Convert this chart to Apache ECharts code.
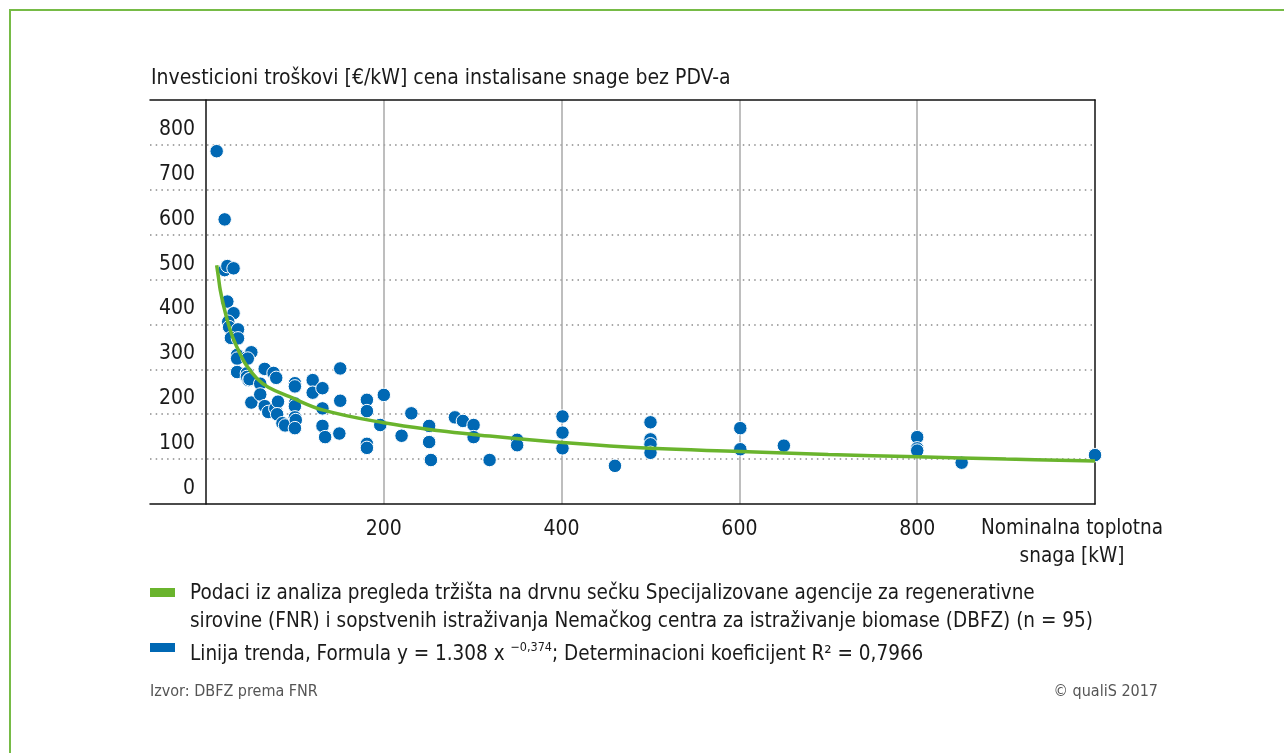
<!DOCTYPE html>
<html>
<head>
<meta charset="utf-8">
<script src="https://cdn.jsdelivr.net/npm/echarts@6/dist/echarts.min.js"></script>
<style>
  html, body { margin: 0; padding: 0; background: #fff; }
  #chart { width: 1284px; height: 753px; }
</style>
</head>
<body>
<div id="chart"></div>
<script>
  // snaga [kW] i troškovi [€/kW], očitano sa slike
  var power = [12, 21, 21, 24, 31, 24, 31, 25, 26, 36, 28, 36, 35, 46, 51, 35, 47,
    35, 46, 46, 48, 49, 61, 66, 76, 79, 51, 61, 66, 70, 78, 81, 80, 86, 89,
    100, 100, 100, 100, 100, 101, 100, 120, 120, 131, 131, 131, 134, 151, 151, 150,
    181, 181, 181, 181, 196, 200, 220, 231, 251, 251, 253, 280, 289, 301, 301, 319,
    350, 350, 401, 401, 401, 460, 500, 500, 500, 500, 601, 601, 650, 800, 800, 800,
    850, 1000]
  var cost = [786, 634, 521, 530, 525, 451, 425, 406, 394, 389, 370, 369, 332, 327, 338, 324, 324,
    294, 291, 283, 276, 278, 268, 301, 292, 281, 226, 244, 218, 205, 213, 228, 200, 180, 175,
    269, 262, 224, 218, 193, 187, 169, 276, 248, 258, 213, 174, 149, 302, 230, 157,
    232, 207, 134, 125, 176, 243, 152, 202, 174, 138, 98, 193, 185, 176, 149, 98,
    143, 131, 195, 159, 124, 85, 182, 144, 133, 114, 169, 122, 130, 149, 124, 119,
    92, 109]

  // linija trenda, očitana sa slike
  var trendX = [12, 14, 16, 20, 25, 30, 38, 45, 57, 70, 94, 132, 200, 263, 300, 401, 500, 601, 700, 800, 900, 1000]
  var trendY = [532, 505, 477, 440, 402, 372, 336, 310, 280, 260, 239, 209, 181, 163, 155, 137, 124, 117, 110, 105, 100, 96]

  var xTicks = [200, 400, 600, 800]
  var yTicks = [0, 100, 200, 300, 400, 500, 600, 700, 800]

  var FONT = "'Liberation Sans Narrow', 'DejaVu Sans Condensed', Roboto, sans-serif"
  var GREEN = '#6ab42d'
  var BLUE = '#0068b4'
  var INK = '#1a1a1a'

  var scatterData = power.map(function (p, i) { return [p, cost[i]] })
  var trendData = trendX.map(function (p, i) { return [p, trendY[i]] })

  var chart = echarts.init(document.getElementById('chart'))
  chart.setOption({
    backgroundColor: '#fff',
    animation: false,
    title: {
      text: 'Investicioni troškovi [€/kW] cena instalisane snage bez PDV-a',
      left: 146,
      top: 63,
      textStyle: { fontFamily: FONT, fontSize: 21, fontWeight: 'normal', color: INK }
    },
    grid: [
      { left: 206, right: 189, top: 100, bottom: 249 },
      { left: 150, right: 189, top: 100, bottom: 249 }
    ],
    xAxis: [{
      gridIndex: 0,
      type: 'value',
      min: 0,
      max: 1000,
      interval: 200,
      axisLine: { show: false },
      axisTick: { show: false },
      axisLabel: {
        margin: 15,
        fontFamily: FONT,
        fontSize: 21,
        color: INK,
        formatter: function (v) { return xTicks.indexOf(v) >= 0 ? String(v) : '' }
      },
      splitLine: { show: true, showMinLine: false, showMaxLine: false, lineStyle: { color: '#a8a8a8', width: 1.5 } }
    }, {
      gridIndex: 1,
      type: 'value',
      min: 0,
      max: 1,
      axisLine: { show: true, lineStyle: { color: '#111', width: 1.5 } },
      axisTick: { show: false },
      axisLabel: { show: false },
      splitLine: { show: false }
    }, {
      gridIndex: 1,
      type: 'value',
      position: 'top',
      min: 0,
      max: 1,
      axisLine: { show: true, lineStyle: { color: '#111', width: 1.5 } },
      axisTick: { show: false },
      axisLabel: { show: false },
      splitLine: { show: false }
    }],
    yAxis: [{
      gridIndex: 0,
      type: 'value',
      min: 0,
      max: 900,
      interval: 100,
      axisLine: { show: true, lineStyle: { color: '#111', width: 1.5 } },
      axisTick: { show: false },
      axisLabel: {
        margin: 11,
        fontFamily: FONT,
        fontSize: 21,
        color: INK,
        verticalAlign: 'bottom',
        padding: [0, 0, 5, 0],
        formatter: function (v) { return yTicks.indexOf(v) >= 0 ? String(v) : '' }
      },
      splitLine: { show: false }
    }, {
      gridIndex: 0,
      type: 'value',
      position: 'right',
      min: 0,
      max: 900,
      interval: 100,
      axisLine: { show: true, lineStyle: { color: '#111', width: 1.5 } },
      axisTick: { show: false },
      axisLabel: { show: false },
      splitLine: { show: false }
    }, {
      gridIndex: 1,
      type: 'value',
      min: 0,
      max: 900,
      interval: 100,
      axisLine: { show: false },
      axisTick: { show: false },
      axisLabel: { show: false },
      splitLine: {
        show: true,
        showMinLine: false,
        showMaxLine: false,
        lineStyle: { color: '#8c8c8c', width: 1.5, type: [1.5, 4.2] }
      }
    }],
    series: [{
      name: 'Podaci',
      type: 'scatter',
      xAxisIndex: 0,
      yAxisIndex: 0,
      symbolSize: 13.5,
      itemStyle: { color: BLUE, borderColor: '#fff', borderWidth: 1, opacity: 1 },
      data: scatterData,
      z: 3
    }, {
      name: 'Linija trenda',
      type: 'line',
      xAxisIndex: 0,
      yAxisIndex: 0,
      smooth: 0.4,
      symbol: 'none',
      lineStyle: { color: GREEN, width: 3.5 },
      data: trendData,
      z: 4
    }],
    graphic: [
      // zeleni okvir
      { type: 'rect', shape: { x: 10, y: 10, width: 1400, height: 1000 }, style: { fill: 'none', stroke: '#76bb46', lineWidth: 2 }, silent: true },
      {
        type: 'text', x: 1072, y: 515,
        style: { text: 'Nominalna toplotna\nsnaga [kW]', align: 'center', verticalAlign: 'top', lineHeight: 28, font: '20.5px ' + FONT, fill: INK }
      },
      // legenda
      { type: 'rect', shape: { x: 150, y: 588, width: 25, height: 9 }, style: { fill: GREEN } },
      { type: 'rect', shape: { x: 150, y: 643, width: 25, height: 9 }, style: { fill: BLUE } },
      {
        type: 'text', x: 190, y: 580,
        style: {
          text: 'Podaci iz analiza pregleda tržišta na drvnu sečku Specijalizovane agencije za regenerativne\nsirovine (FNR) i sopstvenih istraživanja Nemačkog centra za istraživanje biomase (DBFZ) (n = 95)',
          verticalAlign: 'top', lineHeight: 28, font: '20.5px ' + FONT, fill: INK
        }
      },
      {
        type: 'text', x: 190, y: 641,
        style: {
          text: '{m|Linija trenda, Formula y = 1.308 x }{s|−0,374}{m|; Determinacioni koeficijent R² = 0,7966}',
          verticalAlign: 'top', font: '20.5px ' + FONT, fill: INK,
          rich: {
            m: { fontFamily: FONT, fontSize: 20.5, lineHeight: 28, fill: INK },
            s: { fontFamily: FONT, fontSize: 12.5, lineHeight: 14, verticalAlign: 'top', fill: INK }
          }
        }
      },
      // izvor
      { type: 'text', x: 150, y: 684, style: { text: 'Izvor: DBFZ prema FNR', verticalAlign: 'top', font: '16px ' + FONT, fill: '#555' } },
      { type: 'text', x: 1158, y: 684, style: { text: '© qualiS 2017', align: 'right', verticalAlign: 'top', font: '16px ' + FONT, fill: '#555' } }
    ]
  })
</script>
</body>
</html>
